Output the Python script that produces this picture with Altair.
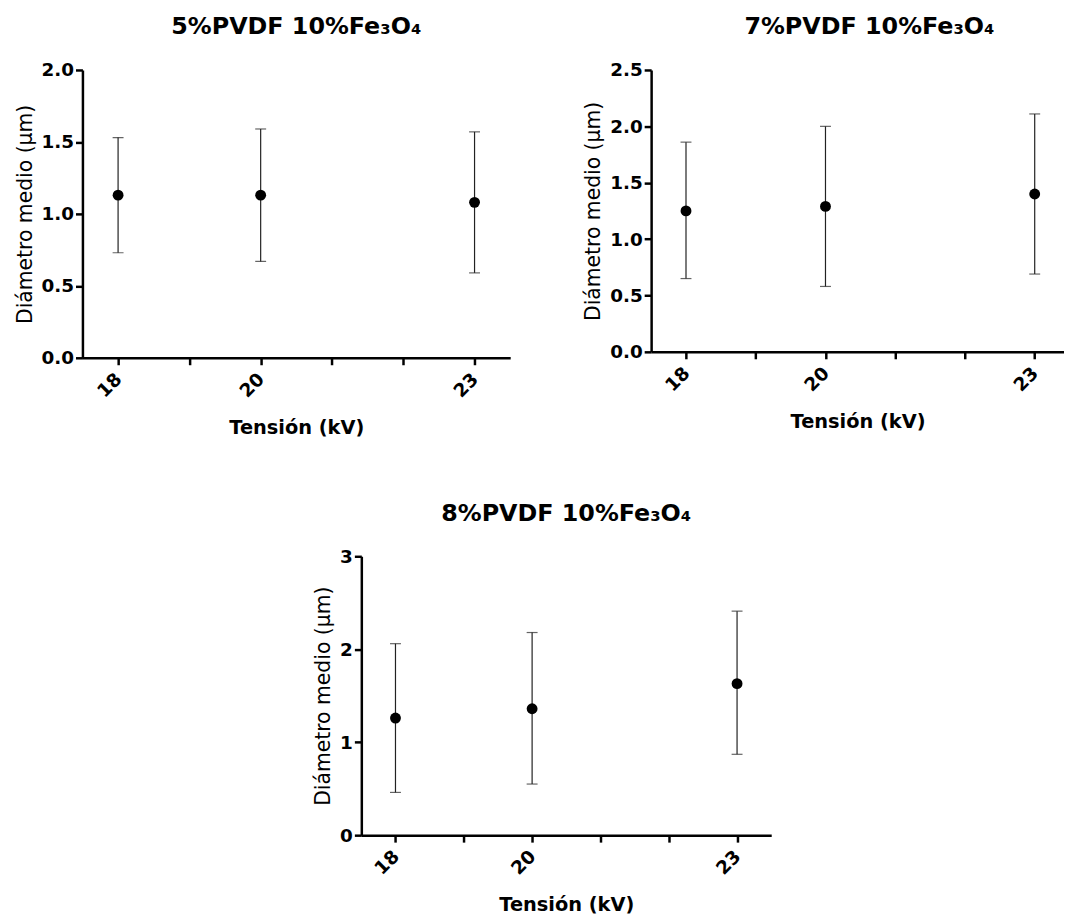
import altair as alt
import pandas as pd

# ---- data ----
voltage = [18, 20, 23]

mean_5 = [1.13, 1.13, 1.08]
low_5 = [0.73, 0.67, 0.59]
high_5 = [1.53, 1.59, 1.57]

mean_7 = [1.25, 1.29, 1.40]
low_7 = [0.65, 0.58, 0.69]
high_7 = [1.86, 2.00, 2.11]

mean_8 = [1.26, 1.36, 1.63]
low_8 = [0.46, 0.55, 0.87]
high_8 = [2.06, 2.18, 2.41]

x_ticks = [18, 19, 20, 21, 22, 23]
x_labelled = [18, 20, 23]

FONT = "DejaVu Sans"
Y_TITLE = "Diámetro medio (µm)"
X_TITLE = "Tensión (kV)"


def panel(title, mean, low, high, ymax, yvalues, yfmt, width, height, xmax,
          title_dx=0):
    df = pd.DataFrame({"v": voltage, "m": mean, "lo": low, "hi": high})
    label_test = " || ".join(f"datum.value == {v}" for v in x_labelled)
    xaxis = alt.Axis(
        values=x_ticks,
        format="d",
        labelExpr=f"({label_test}) ? datum.label : ''",
        labelAngle=315,
        labelAlign="right",
        labelBaseline="middle",
        labelPadding=11,
        title=X_TITLE,
        titleFontWeight="bold",
        titleFontSize=19.5,
        titlePadding=18,
    )
    xscale = alt.Scale(domain=[17.5, xmax], nice=False, zero=False)
    yaxis = alt.Axis(
        values=yvalues,
        format=yfmt,
        title=Y_TITLE,
        titleFontWeight="normal",
        titleFontSize=20.5,
        titlePadding=6,
        labelPadding=2,
    )
    yscale = alt.Scale(domain=[0, ymax], nice=False, zero=True)
    base = alt.Chart(df)
    bars = base.mark_errorbar(
        ticks={"size": 11, "thickness": 1.2, "color": "#222222"},
        rule={"strokeWidth": 1.2, "color": "#222222"},
    ).encode(
        x=alt.X("v:Q", scale=xscale, axis=xaxis),
        y=alt.Y("lo:Q", scale=yscale, axis=yaxis),
        y2="hi:Q",
    )
    pts = base.mark_circle(size=120, color="black", opacity=1).encode(
        x=alt.X("v:Q", scale=xscale, axis=xaxis),
        y=alt.Y("m:Q", scale=yscale, axis=yaxis),
    )
    return alt.layer(bars, pts).properties(
        width=width,
        height=height,
        title=alt.TitleParams(
            text=title,
            font=FONT,
            fontSize=24,
            fontWeight="bold",
            color="black",
            anchor="middle",
            offset=22,
            dx=title_dx,
        ),
    )


p5 = panel("5%PVDF 10%Fe₃O₄", mean_5, low_5, high_5, 2.0,
           [0, 0.5, 1.0, 1.5, 2.0], ".1f", 431, 290, 23.5)
p7 = panel("7%PVDF 10%Fe₃O₄", mean_7, low_7, high_7, 2.5,
           [0, 0.5, 1.0, 1.5, 2.0, 2.5], ".1f", 416, 284, 23.42,
           title_dx=12)
p8 = panel("8%PVDF 10%Fe₃O₄", mean_8, low_8, high_8, 3.0,
           [0, 1, 2, 3], "d", 413, 281, 23.5)

# invisible spacer that pushes the lower panel towards the centre
SPACER_W = 233
spacer = alt.Chart(pd.DataFrame({"a": [0]})).mark_point(
    opacity=0, size=1
).encode(
    x=alt.value(SPACER_W - 1), y=alt.value(0)
).properties(width=SPACER_W, height=10)

top = alt.hconcat(p5, p7, spacing=74)
bottom = alt.hconcat(spacer, p8, spacing=0)
chart = alt.vconcat(top, bottom, spacing=65).properties(
    padding={"left": 7, "top": 4, "right": 0, "bottom": 0}
).configure_view(
    stroke=None
).configure_axis(
    grid=False,
    domainColor="black",
    domainWidth=2.5,
    tickColor="black",
    tickWidth=2.5,
    tickSize=7,
    labelFont=FONT,
    labelFontWeight="bold",
    labelFontSize=18.5,
    labelColor="black",
    titleFont=FONT,
    titleColor="black",
)

chart.save("out.html", embed_options={"renderer": "svg", "actions": False})
